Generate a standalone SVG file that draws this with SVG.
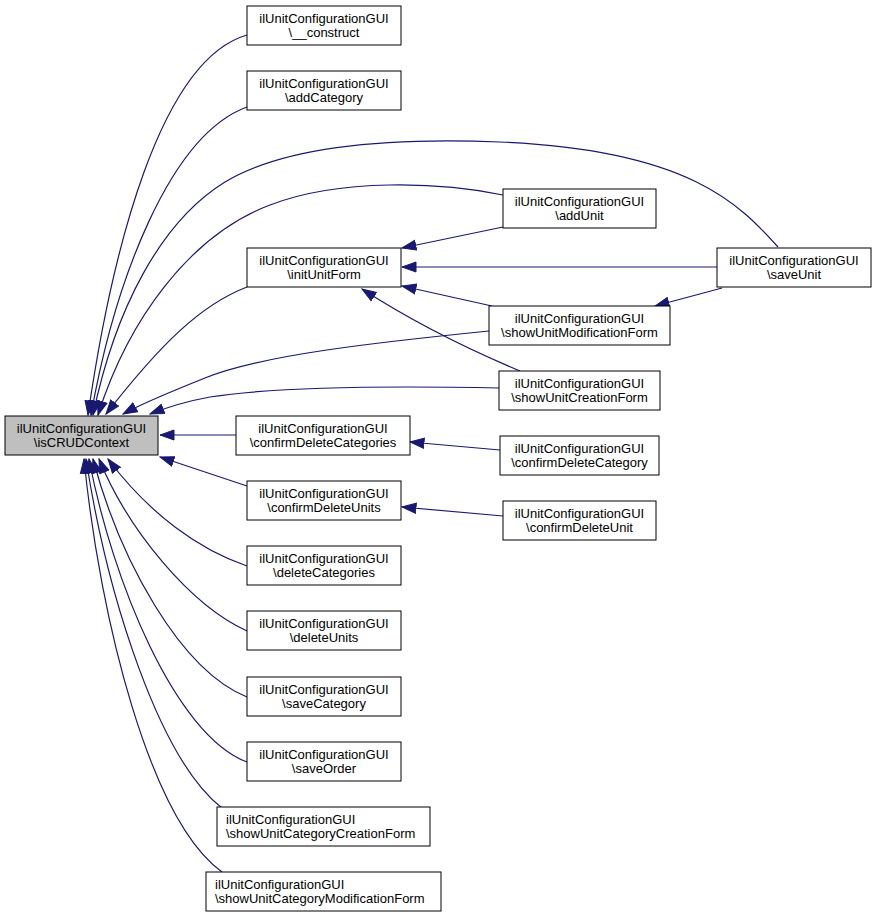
<svg xmlns="http://www.w3.org/2000/svg" width="877" height="919" viewBox="0 0 877 919">
<style>
.n rect{fill:#fff;stroke:#000;stroke-width:1}
.n.main rect{fill:#bfbfbf}
.n text{font-family:"Liberation Sans",Arial,sans-serif;font-size:13px;fill:#000;text-anchor:middle}
.n.l text{text-anchor:start}
.e path{fill:none;stroke:#191970;stroke-width:1.2}
</style>
<defs>
<marker id="ah" markerUnits="userSpaceOnUse" markerWidth="16" markerHeight="12" viewBox="0 0 16 12" refX="14.5" refY="6" orient="auto">
<polygon points="0.5,1 14.5,6 0.5,11" fill="#191970" stroke="#191970"/>
</marker>
</defs>
<rect width="877" height="919" fill="#fff"/>
<g id="edges" class="e" marker-end="url(#ah)">
<path d="M247,35 C160,60 112,250 88,415"/>
<path d="M247,107 C170,135 115,280 91,415"/>
<path d="M778,247 C740,205 690,150 500,142 C350,136 270,155 225,182 C160,222 115,310 93,415"/>
<path d="M503,195 C440,182 340,178 270,205 C190,235 128,320 98,415"/>
<path d="M247,287 C200,305 160,345 106,414"/>
<path d="M489,331 C380,342 260,355 205,378 C170,392 143,403 123,414"/>
<path d="M499,388 C400,386 280,386 210,397 C188,401 168,407 150,414"/>
<path d="M236,435 L160,435"/>
<path d="M247,486 L160,457"/>
<path d="M247,566 C200,550 150,515 108,459"/>
<path d="M247,631 C190,605 128,530 99,459"/>
<path d="M247,697 C180,670 120,560 93,459"/>
<path d="M247,762 C175,735 112,580 89,459"/>
<path d="M222,808 C160,760 108,600 86,459"/>
<path d="M222,872 C150,820 100,620 84,459"/>
<path d="M503,227 L402,248"/>
<path d="M717,267 L402,267"/>
<path d="M492,306 L402,286"/>
<path d="M520,371 C470,350 410,320 362,289"/>
<path d="M722,288 L655,306"/>
<path d="M500,450 L410,442"/>
<path d="M503,516 L402,507"/>
</g>
<g id="isCRUDContext" class="n main"><rect x="5" y="416" width="153" height="39"/><text x="81.5" y="432.5">ilUnitConfigurationGUI</text><text x="81.5" y="446.5">\isCRUDContext</text></g>
<g id="construct" class="n"><rect x="247" y="6" width="154" height="39"/><text x="324" y="22.5">ilUnitConfigurationGUI</text><text x="324" y="36.5">\__construct</text></g>
<g id="addCategory" class="n"><rect x="247" y="71" width="154" height="39"/><text x="324" y="87.5">ilUnitConfigurationGUI</text><text x="324" y="101.5">\addCategory</text></g>
<g id="initUnitForm" class="n"><rect x="247" y="248" width="154" height="39"/><text x="324" y="264.5">ilUnitConfigurationGUI</text><text x="324" y="278.5">\initUnitForm</text></g>
<g id="confirmDeleteCategories" class="n"><rect x="236" y="416" width="174" height="39"/><text x="323" y="432.5">ilUnitConfigurationGUI</text><text x="323" y="446.5">\confirmDeleteCategories</text></g>
<g id="confirmDeleteUnits" class="n"><rect x="247" y="481" width="154" height="39"/><text x="324" y="497.5">ilUnitConfigurationGUI</text><text x="324" y="511.5">\confirmDeleteUnits</text></g>
<g id="deleteCategories" class="n"><rect x="247" y="546" width="154" height="39"/><text x="324" y="562.5">ilUnitConfigurationGUI</text><text x="324" y="576.5">\deleteCategories</text></g>
<g id="deleteUnits" class="n"><rect x="247" y="611" width="154" height="39"/><text x="324" y="627.5">ilUnitConfigurationGUI</text><text x="324" y="641.5">\deleteUnits</text></g>
<g id="saveCategory" class="n"><rect x="247" y="677" width="154" height="39"/><text x="324" y="693.5">ilUnitConfigurationGUI</text><text x="324" y="707.5">\saveCategory</text></g>
<g id="saveOrder" class="n"><rect x="247" y="742" width="154" height="39"/><text x="324" y="758.5">ilUnitConfigurationGUI</text><text x="324" y="772.5">\saveOrder</text></g>
<g id="showUnitCategoryCreationForm" class="n l"><rect x="217" y="807" width="213" height="39"/><text x="226" y="823.5">ilUnitConfigurationGUI</text><text x="226" y="837.5">\showUnitCategoryCreationForm</text></g>
<g id="showUnitCategoryModificationForm" class="n l"><rect x="206" y="872" width="235" height="39"/><text x="215" y="888.5">ilUnitConfigurationGUI</text><text x="215" y="902.5">\showUnitCategoryModificationForm</text></g>
<g id="addUnit" class="n"><rect x="503" y="189" width="153" height="39"/><text x="579.5" y="205.5">ilUnitConfigurationGUI</text><text x="579.5" y="219.5">\addUnit</text></g>
<g id="saveUnit" class="n"><rect x="717" y="248" width="154" height="39"/><text x="794" y="264.5">ilUnitConfigurationGUI</text><text x="794" y="278.5">\saveUnit</text></g>
<g id="showUnitModificationForm" class="n"><rect x="489" y="306" width="181" height="39"/><text x="579.5" y="322.5">ilUnitConfigurationGUI</text><text x="579.5" y="336.5">\showUnitModificationForm</text></g>
<g id="showUnitCreationForm" class="n"><rect x="499" y="371" width="161" height="39"/><text x="579.5" y="387.5">ilUnitConfigurationGUI</text><text x="579.5" y="401.5">\showUnitCreationForm</text></g>
<g id="confirmDeleteCategory" class="n"><rect x="500" y="436" width="159" height="39"/><text x="579.5" y="452.5">ilUnitConfigurationGUI</text><text x="579.5" y="466.5">\confirmDeleteCategory</text></g>
<g id="confirmDeleteUnit" class="n"><rect x="503" y="501" width="153" height="39"/><text x="579.5" y="517.5">ilUnitConfigurationGUI</text><text x="579.5" y="531.5">\confirmDeleteUnit</text></g>
</svg>
